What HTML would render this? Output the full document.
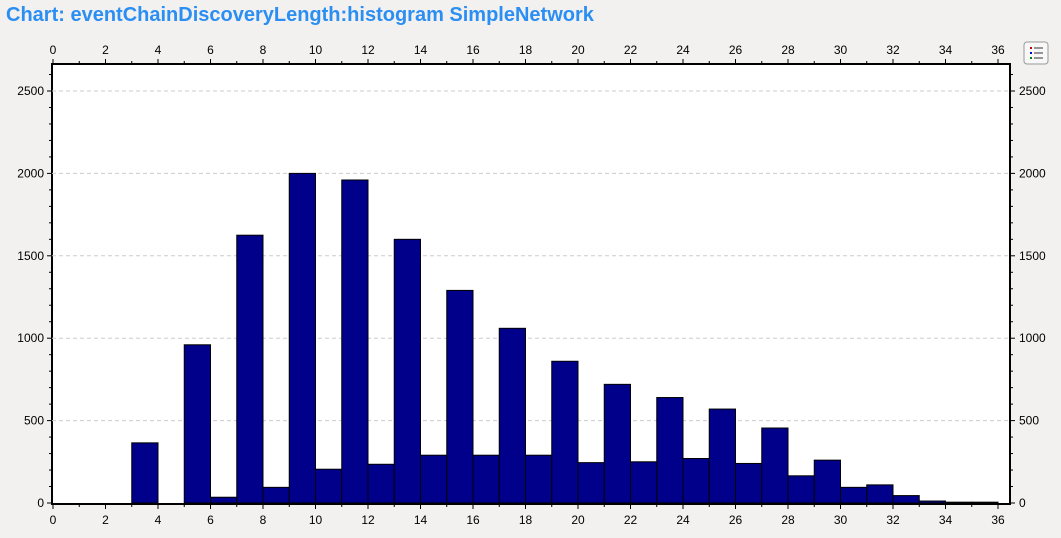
<!DOCTYPE html>
<html><head><meta charset="utf-8"><style>
body{margin:0;background:#f2f1f0;width:1061px;height:538px;overflow:hidden;font-family:"Liberation Sans",sans-serif}
#title{position:absolute;left:6px;top:4px;font-size:20px;font-weight:bold;color:#2a8ef2}
</style></head><body>
<div id="title">Chart: eventChainDiscoveryLength:histogram SimpleNetwork</div>
<svg id="chart" width="1061" height="538" style="position:absolute;left:0;top:0"></svg>
<script>
const binStarts=[0,1,2,3,4,5,6,7,8,9,10,11,12,13,14,15,16,17,18,19,20,21,22,23,24,25,26,27,28,29,30,31,32,33,34,35];
const counts=[0,0,0,365,0,960,35,1625,95,2000,205,1960,235,1600,290,1290,290,1060,290,860,245,720,250,640,270,570,240,455,165,260,95,110,45,12,5,5];
const xTicks=[0,2,4,6,8,10,12,14,16,18,20,22,24,26,28,30,32,34,36];
const yTicks=[0,500,1000,1500,2000,2500];
const NS='http://www.w3.org/2000/svg';
const svg=document.getElementById('chart');
const L=52,R=1010,T=64,B=504;
const X=v=>53+v*(998-53)/36;
const Y=v=>503-v*(503-91)/2500;
function mk(tag,a,p){const e=document.createElementNS(NS,tag);for(const k in a)e.setAttribute(k,a[k]);(p||svg).appendChild(e);return e;}
const bg=mk('rect',{x:L,y:T,width:R-L,height:B-T,fill:'#fff',stroke:'#000','stroke-width':2});


yTicks.forEach(v=>{if(v===0)return;const g=mk('line',{x1:L,x2:R,y1:Y(v),y2:Y(v),stroke:'#ccc','stroke-dasharray':'4,3'});

});
binStarts.forEach((b,i)=>{const h=counts[i];if(h<=0)return;const r=mk('rect',{x:X(b),y:Y(h),width:X(b+1)-X(b),height:Y(0)-Y(h),fill:'#00008b',stroke:'#000','stroke-width':1});

});
for(let v=0;v<=36;v++){const len=v%2===0?5:3;
mk('line',{x1:X(v),x2:X(v),y1:B,y2:B+len,stroke:'#000'});
mk('line',{x1:X(v),x2:X(v),y1:T,y2:T-len,stroke:'#000'});}
xTicks.forEach(v=>{
const a=mk('text',{x:X(v),y:524,'font-size':12,'text-anchor':'middle',fill:'#000'});a.textContent=v;


const b=mk('text',{x:X(v),y:54,'font-size':12,'text-anchor':'middle',fill:'#000'});b.textContent=v;

});
for(let v=0;v<=2600;v+=100){const len=v%500===0?5:3;
mk('line',{x1:L,x2:L-len,y1:Y(v),y2:Y(v),stroke:'#000'});
mk('line',{x1:R,x2:R+len,y1:Y(v),y2:Y(v),stroke:'#000'});}
yTicks.forEach(v=>{
const a=mk('text',{x:44,y:Y(v)+4,'font-size':12,'text-anchor':'end',fill:'#000'});a.textContent=v;


const b=mk('text',{x:1019,y:Y(v)+4,'font-size':12,'text-anchor':'start',fill:'#000'});b.textContent=v;

});
const btn=mk('g',{});


mk('rect',{x:1024,y:42,width:24,height:22,rx:3,fill:'#f8f8f8',stroke:'#999'},btn);
[48,53,58].forEach((y,i)=>{mk('rect',{x:1030,y:y-1,width:2,height:2,fill:['#c00','#00c','#080'][i]},btn);mk('line',{x1:1034,x2:1043,y1:y,y2:y,stroke:'#333'},btn);});
</script>
</body></html>
